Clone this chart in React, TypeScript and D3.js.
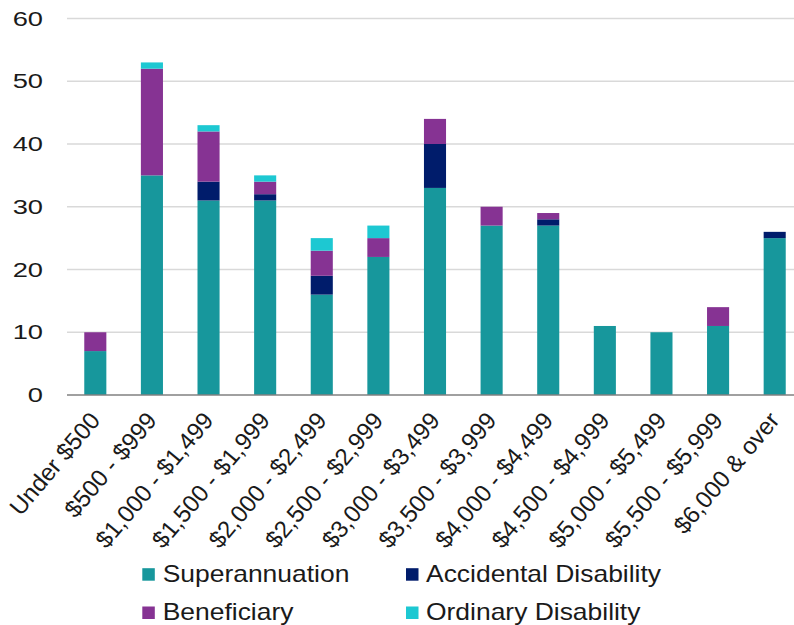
import React from 'react';
import * as d3 from 'd3';

const categories = [
  'Under $500', '$500 - $999', '$1,000 - $1,499', '$1,500 - $1,999', '$2,000 - $2,499',
  '$2,500 - $2,999', '$3,000 - $3,499', '$3,500 - $3,999', '$4,000 - $4,499',
  '$4,500 - $4,999', '$5,000 - $5,499', '$5,500 - $5,999', '$6,000 & over',
];

const superannuation = [7, 35, 31, 31, 16, 22, 33, 27, 27, 11, 10, 11, 25];
const accidental = [0, 0, 3, 1, 3, 0, 7, 0, 1, 0, 0, 0, 1];
const beneficiary = [3, 17, 8, 2, 4, 3, 4, 3, 1, 0, 0, 3, 0];
const ordinary = [0, 1, 1, 1, 2, 2, 0, 0, 0, 0, 0, 0, 0];

const yTicks = [0, 10, 20, 30, 40, 50, 60];

const series = [
  { key: 'Superannuation', values: superannuation, color: '#17979c' },
  { key: 'Accidental Disability', values: accidental, color: '#001c6b' },
  { key: 'Beneficiary', values: beneficiary, color: '#863393' },
  { key: 'Ordinary Disability', values: ordinary, color: '#1dc8d2' },
];

// legend layout: two columns, two rows
const legendOrder = [
  { key: 'Superannuation', col: 0, row: 0 },
  { key: 'Accidental Disability', col: 1, row: 0 },
  { key: 'Beneficiary', col: 0, row: 1 },
  { key: 'Ordinary Disability', col: 1, row: 1 },
];

const W = 794;
const H = 625;
const left = 67;
const right = 803;
const top = 18.5;
const bottom = 395;
const font = '"Liberation Sans", Arial, sans-serif';

export default function App() {
  const rows = categories.map((c, i) => {
    const r: any = { cat: c };
    series.forEach(s => { r[s.key] = s.values[i]; });
    return r;
  });

  const stacked = d3.stack<any>().keys(series.map(s => s.key))(rows);

  const x = d3.scaleBand<string>()
    .domain(categories)
    .range([left, right])
    .paddingInner(0.61)
    .paddingOuter(0.305);

  const y = d3.scaleLinear().domain([0, 60]).range([bottom, top]);

  return (
    <div style={{ position: 'absolute', left: 0, top: 0 }}>
      <svg width={W} height={H} viewBox={`0 0 ${W} ${H}`} style={{ display: 'block', overflow: 'hidden' }}>
        <rect width={W} height={H} fill="#fff" />

        {/* gridlines */}
        {yTicks.filter(t => t > 0).map(t => (
          <line key={t} x1={left} x2={W} y1={y(t)} y2={y(t)} stroke="#d9d9d9" strokeWidth={1.5} />
        ))}

        {/* y labels */}
        {yTicks.map(t => (
          <g key={t} transform={`translate(43,${y(t) + 7}) scale(1.4,1)`}>
            <text textAnchor="end" fontFamily={font} fontSize={19.5} fill="#1a1a1a">{t}</text>
          </g>
        ))}

        {/* bars */}
        {stacked.map((layer, li) => (
          <g key={layer.key} fill={series[li].color}>
            {layer.map((d, i) => (
              d[1] - d[0] > 0 ? (
                <rect key={i}
                  x={x(categories[i])}
                  width={x.bandwidth()}
                  y={y(d[1])}
                  height={y(d[0]) - y(d[1])} />
              ) : null
            ))}
          </g>
        ))}

        {/* x axis */}
        <line x1={left} x2={W} y1={bottom} y2={bottom} stroke="#808080" strokeWidth={1.5} />

        {categories.map(c => (
          <text key={c}
            transform={`translate(${(x(c) as number) + x.bandwidth() / 2 + 6},421) rotate(-50)`}
            textAnchor="end" fontFamily={font} fontSize={24} fill="#1a1a1a">{c}</text>
        ))}

        {/* legend */}
        {legendOrder.map(l => {
          const s = series.find(v => v.key === l.key)!;
          const sx = l.col === 0 ? 142.3 : 406;
          const tx = l.col === 0 ? 162.7 : 426;
          const base = l.row === 0 ? 581.7 : 620;
          return (
            <g key={l.key}>
              <rect x={sx} y={base - 13.5} width={12.5} height={12.5} fill={s.color} />
              <g transform={`translate(${tx},${base}) scale(1.15,1)`}>
                <text fontFamily={font} fontSize={23} fill="#1a1a1a">{l.key}</text>
              </g>
            </g>
          );
        })}
      </svg>
    </div>
  );
}
